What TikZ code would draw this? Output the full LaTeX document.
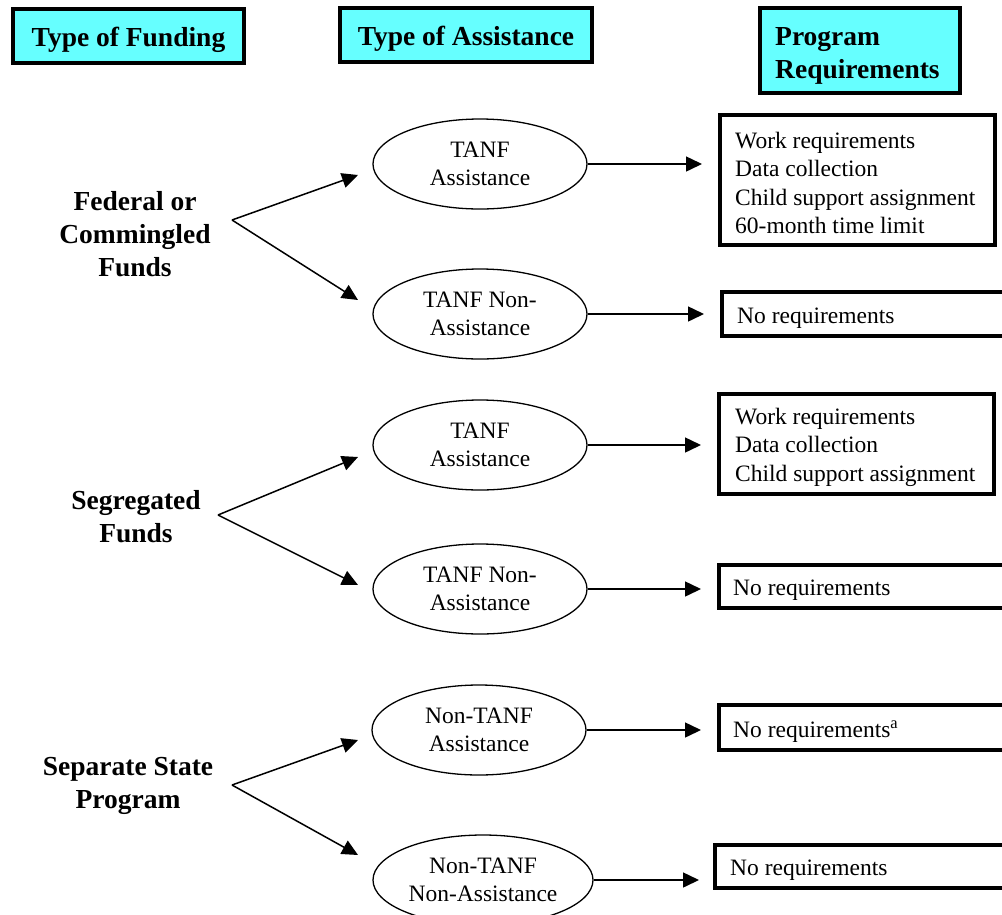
\documentclass[tikz,border=0pt]{standalone}
\usepackage{fontspec}
\setmainfont{Liberation Serif}
\usetikzlibrary{shapes.geometric,arrows.meta}
\definecolor{hdrcyan}{RGB}{102,255,255}
\tikzset{
  hdr/.style={draw=black, line width=4pt, fill=hdrcyan, inner sep=0pt,
    font=\bfseries\fontsize{27.5}{33}\selectfont, align=center},
  fund/.style={font=\bfseries\fontsize{27.5}{33}\selectfont, align=center, inner sep=0pt},
  oval/.style={draw=black, ellipse, line width=1.3pt, minimum width=214pt, minimum height=90pt,
    inner sep=0pt, font=\fontsize{23.5}{28}\selectfont, align=center},
  reqbox/.style={draw=black, line width=4pt, inner sep=0pt},
  reqtxt/.style={anchor=west, inner sep=0pt, align=left, font=\fontsize{23.5}{28.5}\selectfont},
  conn/.style={line width=1.5pt, -{Triangle[length=16pt,width=15pt]}},
}
\begin{document}
\begin{tikzpicture}[x=1pt,y=-1pt]
\useasboundingbox (0,0) rectangle (1002,914);
% headers
\node[hdr, minimum width=231pt, minimum height=54pt] (h1) at (128.5,36) {};
\node[fund] (h1t) at ([yshift=-4pt]h1.center) {Type of Funding};
\node[hdr, minimum width=252pt, minimum height=54pt] (h2) at (466,35) {};
\node[fund] (h2t) at ([yshift=-4pt]h2.center) {Type of Assistance};
\node[hdr, minimum width=200pt, minimum height=85pt] (h3) at (860,50.5) {};
\node[reqtxt, font=\bfseries\fontsize{27.5}{33}\selectfont] (h3t) at ([xshift=17pt,yshift=-5pt]h3.west) {Program\\Requirements};
% funding labels
\node[fund] (f1) at (135,234) {Federal or\\Commingled\\Funds};
\node[fund] (f2) at (136,517) {Segregated\\Funds};
\node[fund] (f3) at (128,786) {Separate State\\Program};
% ellipses
\node[oval] (e1) at (480,164) {TANF\\Assistance};
\node[oval] (e2) at (480,314) {TANF Non-\\Assistance};
\node[oval] (e3) at (480,445) {TANF\\Assistance};
\node[oval] (e4) at (480,589) {TANF Non-\\Assistance};
\node[oval] (e5) at (479,730) {Non-TANF\\Assistance};
\node[oval, minimum width=220pt] (e6) at (483,880) {Non-TANF\\Non-Assistance};
% requirement boxes
\node[reqbox, minimum width=275pt, minimum height=130pt] (b1) at (857.5,180) {};
\node[reqtxt] (t1) at ([xshift=17pt,yshift=-3pt]b1.west) {Work requirements\\Data collection\\Child support assignment\\60-month time limit};
\node[reqbox, minimum width=290pt, minimum height=44pt] (b2) at (867,314) {};
\node[reqtxt] (t2) at ([xshift=17pt,yshift=-4pt]b2.west) {No requirements};
\node[reqbox, minimum width=275pt, minimum height=100pt] (b3) at (856.5,444) {};
\node[reqtxt] (t3) at ([xshift=18pt,yshift=-3pt]b3.west) {Work requirements\\Data collection\\Child support assignment};
\node[reqbox, minimum width=290pt, minimum height=43pt] (b4) at (864,586.5) {};
\node[reqtxt] (t4) at ([xshift=16pt,yshift=-4pt]b4.west) {No requirements};
\node[reqbox, minimum width=290pt, minimum height=45pt] (b5) at (864,727.5) {};
\node[reqtxt] (t5) at ([xshift=16pt,yshift=-4pt]b5.west) {No requirements\textsuperscript{a}};
\node[reqbox, minimum width=294pt, minimum height=43pt] (b6) at (862,866.5) {};
\node[reqtxt] (t6) at ([xshift=17pt,yshift=-4pt]b6.west) {No requirements};
% funding arrows
\coordinate (v1) at (232,220);
\coordinate (v2) at (218,515);
\coordinate (v3) at (232,785);
\coordinate (a1) at (358,175);
\coordinate (a2) at (358,300);
\coordinate (a3) at (358,457);
\coordinate (a4) at (358,585);
\coordinate (a5) at (358,740);
\coordinate (a6) at (358,855);
\draw[conn] (v1) -- (a1);
\draw[conn] (v1) -- (a2);
\draw[conn] (v2) -- (a3);
\draw[conn] (v2) -- (a4);
\draw[conn] (v3) -- (a5);
\draw[conn] (v3) -- (a6);
% assistance to requirement arrows
\draw[conn, shorten >=16pt] (e1.east) -- (e1.east -| b1.west);
\draw[conn, shorten >=16pt] (e2.east) -- (e2.east -| b2.west);
\draw[conn, shorten >=16pt] (e3.east) -- (e3.east -| b3.west);
\draw[conn, shorten >=16pt] (e4.east) -- (e4.east -| b4.west);
\draw[conn, shorten >=16pt] (e5.east) -- (e5.east -| b5.west);
\draw[conn, shorten >=14pt] (e6.east) -- (e6.east -| b6.west);
\end{tikzpicture}
\end{document}
